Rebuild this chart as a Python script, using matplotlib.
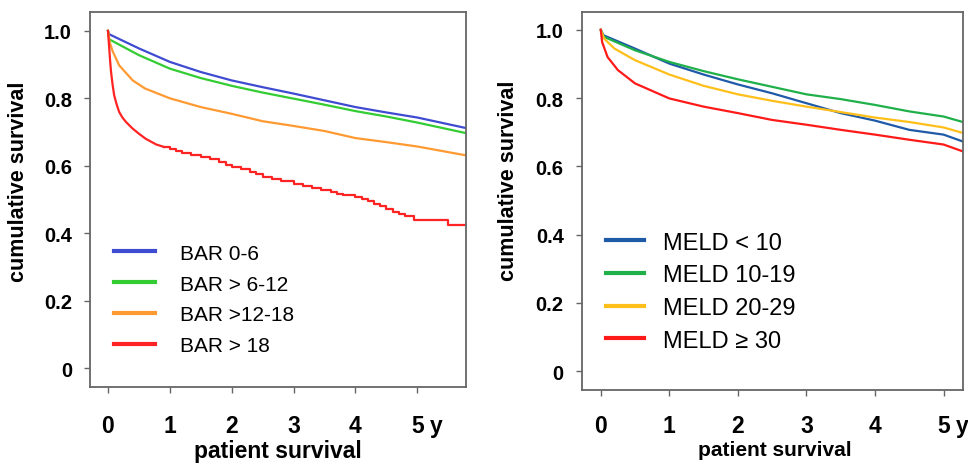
import matplotlib
matplotlib.use('Agg')
import matplotlib.pyplot as plt

plt.rcParams['font.family'] = ['Liberation Sans', 'DejaVu Sans']

# BAR score groups (left panel), years vs cumulative survival
bar_labels = ['BAR 0-6', 'BAR > 6-12', 'BAR >12-18', 'BAR > 18']
bar_colors = ['#3f4bd0', '#33cc33', '#ff9a33', '#ff2424']

bar06_t = [0, 0.02, 0.5, 1, 1.5, 2, 2.5, 3, 3.5, 4, 4.5, 5, 5.78]
bar06_s = [1.0, 0.99, 0.948, 0.908, 0.878, 0.853, 0.833, 0.814, 0.794, 0.774, 0.758, 0.743, 0.712]

bar612_t = [0, 0.02, 0.5, 1, 1.5, 2, 2.5, 3, 3.5, 4, 4.5, 5, 5.78]
bar612_s = [1.0, 0.975, 0.928, 0.888, 0.86, 0.837, 0.817, 0.799, 0.781, 0.762, 0.746, 0.728, 0.697]

bar1218_t = [0, 0.03, 0.075, 0.18, 0.4, 0.6, 1, 1.5, 2, 2.5, 3, 3.5, 4, 4.5, 5, 5.78]
bar1218_s = [1.0, 0.965, 0.94, 0.898, 0.853, 0.829, 0.80, 0.774, 0.754, 0.732, 0.718, 0.703, 0.682, 0.670, 0.657, 0.631]

# early part of the BAR > 18 curve falls smoothly, later part in visible steps
bar18_early_t = [0, 0.01, 0.02, 0.035, 0.05, 0.075, 0.1, 0.14, 0.18, 0.23, 0.29, 0.35, 0.4, 0.5, 0.61, 0.7, 0.78, 0.9]
bar18_early_s = [1.0, 0.975, 0.95, 0.91, 0.878, 0.84, 0.809, 0.782, 0.76, 0.744, 0.73, 0.719, 0.71, 0.695, 0.68, 0.671, 0.663, 0.656]
bar18_t = [0.9, 1.0, 1.1, 1.2, 1.35, 1.5, 1.65, 1.8, 1.9, 2.0, 2.15, 2.3, 2.4, 2.5, 2.65, 2.8, 3.0, 3.15,
           3.3, 3.45, 3.6, 3.7, 3.8, 4.0, 4.1, 4.2, 4.3, 4.4, 4.5, 4.6, 4.7, 4.8, 4.95, 5.5, 5.78]
bar18_s = [0.656, 0.65, 0.644, 0.639, 0.632, 0.626, 0.619, 0.61, 0.603, 0.596, 0.589, 0.581, 0.574, 0.566,
           0.561, 0.556, 0.546, 0.54, 0.534, 0.528, 0.522, 0.517, 0.512, 0.507, 0.5, 0.494, 0.487, 0.48,
           0.472, 0.464, 0.458, 0.452, 0.438, 0.425, 0.425]

# MELD score groups (right panel)
meld_labels = ['MELD < 10', 'MELD 10-19', 'MELD 20-29', 'MELD \u2265 30']
meld_colors = ['#1f5aa8', '#1fb04a', '#ffbf1a', '#ff1a1a']

meld10_t = [0, 0.04, 0.5, 1, 1.5, 2, 2.5, 3, 3.5, 4, 4.5, 5, 5.28]
meld10_s = [1.0, 0.984, 0.945, 0.901, 0.869, 0.84, 0.814, 0.785, 0.756, 0.734, 0.707, 0.693, 0.673]

meld1019_t = [0, 0.04, 0.5, 1, 1.5, 2, 2.5, 3, 3.5, 4, 4.5, 5, 5.28]
meld1019_s = [1.0, 0.98, 0.94, 0.906, 0.879, 0.855, 0.833, 0.811, 0.797, 0.78, 0.761, 0.746, 0.73]

meld2029_t = [0, 0.05, 0.2, 0.5, 1, 1.5, 2, 2.5, 3, 3.5, 4, 4.5, 5, 5.28]
meld2029_s = [1.0, 0.974, 0.945, 0.911, 0.869, 0.836, 0.811, 0.792, 0.775, 0.759, 0.743, 0.73, 0.714, 0.698]

meld30_t = [0, 0.02, 0.1, 0.25, 0.5, 1, 1.5, 2, 2.5, 3, 3.5, 4, 4.5, 5, 5.28]
meld30_s = [1.0, 0.964, 0.92, 0.882, 0.843, 0.799, 0.775, 0.756, 0.736, 0.722, 0.707, 0.693, 0.678, 0.664, 0.644]

y_ticks = [0, 0.2, 0.4, 0.6, 0.8, 1.0]
y_ticklabels = ['0', '0.2', '0.4', '0.6', '0.8', '1.0']
x_ticks = [0, 1, 2, 3, 4, 5]
x_ticklabels = ['0', '1', '2', '3', '4', '5']


def style_axes(ax, xlim, ylim, unit_x, xpad=15, xlabel_size=16.5):
    ax.set_xlim(*xlim)
    ax.set_ylim(*ylim)
    for spine in ax.spines.values():
        spine.set_color('#666666')
        spine.set_linewidth(1.3)
    ax.set_yticks(y_ticks)
    ax.set_yticklabels(y_ticklabels, fontweight='bold', fontsize=14.5)
    ax.set_xticks(x_ticks)
    ax.set_xticklabels(x_ticklabels, fontweight='bold', fontsize=16.5)
    ax.tick_params(axis='y', length=4, width=1, color='#666666', pad=9)
    ax.tick_params(axis='x', length=4.5, width=1, color='#666666', pad=xpad)
    ax.set_xlabel('patient survival', fontweight='bold', fontsize=xlabel_size)
    ax.set_ylabel('cumulative survival', fontweight='bold', fontsize=15.5)
    # the "y" unit next to the last tick label
    ax.annotate('y', xy=(unit_x, 0), xycoords=('data', 'axes fraction'), xytext=(0, -(4.5 + xpad)),
                textcoords='offset points', fontweight='bold', fontsize=16.5, ha='center', va='top')


fig = plt.figure(figsize=(9.68, 4.64), dpi=100)
ax1 = fig.add_axes([0.093, 0.164, 0.388, 0.808])
ax2 = fig.add_axes([0.601, 0.1573, 0.3936, 0.8153])

# left: BAR
series = [(bar06_t, bar06_s), (bar612_t, bar612_s), (bar1218_t, bar1218_s), (bar18_early_t, bar18_early_s)]
for (t, s), lab, col in zip(series, bar_labels, bar_colors):
    ax1.plot(t, s, color=col, lw=1.6, label=lab)
ax1.plot(bar18_t, bar18_s, color=bar_colors[3], lw=1.6, drawstyle='steps-post')
style_axes(ax1, (-0.29, 5.78), (-0.056, 1.056), 5.3)
ax1.xaxis.set_label_coords(0.5, -0.139)
ax1.yaxis.set_label_coords(-0.162, 0.55)
ax1.legend(loc='center left', bbox_to_anchor=(0.064, 0.233), frameon=False, fontsize=15,
           handlelength=1.95, handletextpad=1.2, labelspacing=0.57, borderaxespad=0, borderpad=0)
for h in ax1.get_legend().get_lines():
    h.set_linewidth(3)

# right: MELD
series = [(meld10_t, meld10_s), (meld1019_t, meld1019_s), (meld2029_t, meld2029_s), (meld30_t, meld30_s)]
for (t, s), lab, col in zip(series, meld_labels, meld_colors):
    ax2.plot(t, s, color=col, lw=1.6, label=lab)
style_axes(ax2, (-0.277, 5.28), (-0.055, 1.053), 5.27, xpad=12.5, xlabel_size=15)
ax2.xaxis.set_label_coords(0.507, -0.131)
ax2.yaxis.set_label_coords(-0.165, 0.556)
ax2.legend(loc='center left', bbox_to_anchor=(0.064, 0.26), frameon=False, fontsize=17,
           handlelength=1.6, handletextpad=0.8, labelspacing=0.45, borderaxespad=0, borderpad=0)
for h in ax2.get_legend().get_lines():
    h.set_linewidth(3)

fig.savefig('out.png', dpi=100)
